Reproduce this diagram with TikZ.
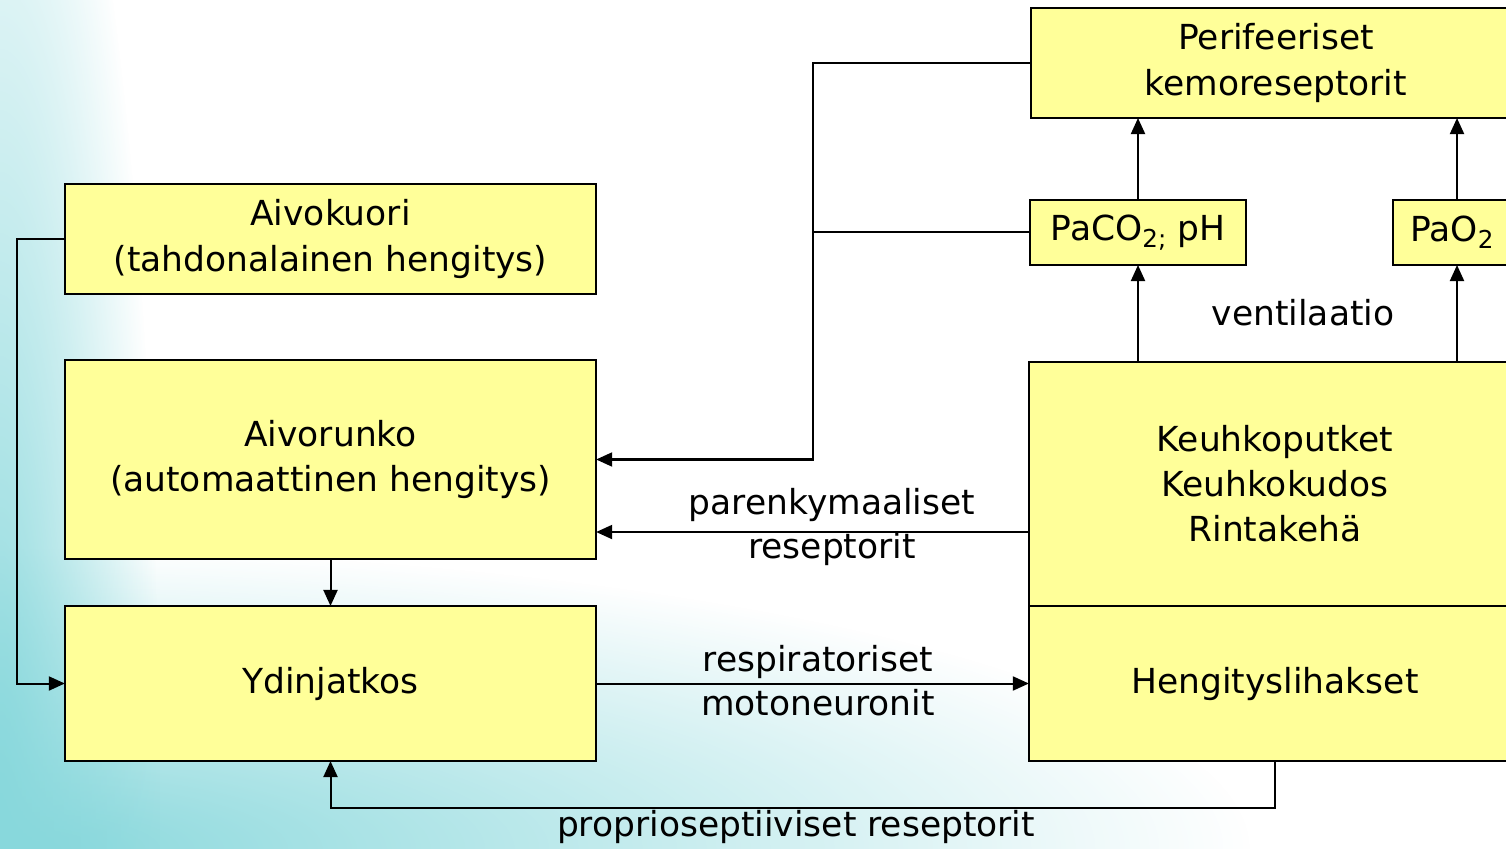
\documentclass[tikz,border=0pt]{standalone}
\usepackage{fontspec}
\setmainfont{DejaVu Sans}
\usetikzlibrary{arrows.meta,calc,fadings}
\definecolor{bgA}{HTML}{88D8DC}
\definecolor{boxy}{HTML}{FFFF99}
\tikzfading[name=glow, inner color=transparent!0, outer color=transparent!100]
\begin{document}
\begin{tikzpicture}[x=0.01cm,y=-0.01cm,
  box/.style={draw=black, fill=boxy, line width=0.02cm, inner sep=0pt, outer sep=0pt, align=center, font=\fontsize{9.8}{12.8}\selectfont},
  lbl/.style={inner sep=0pt, align=center, font=\fontsize{9.8}{12.5}\selectfont},
  conn/.style={line width=0.02cm},
  arr/.style={conn, -{Triangle[length=0.16cm,width=0.14cm]}}]
\useasboundingbox (0,0) rectangle (1506,849);
\clip (0,0) rectangle (1506,849);
\fill[white] (0,0) rectangle (1506,849);
\fill[bgA, path fading=glow] (0,849) ellipse [x radius=1250, y radius=300];
\fill[bgA, path fading=glow] (0,849) ellipse [x radius=160, y radius=1200];

% boxes
\node[box, minimum width=5.31cm, minimum height=1.10cm] (aivok) at (330.5,239) {Aivokuori\\(tahdonalainen hengitys)};
\node[box, minimum width=5.31cm, minimum height=1.99cm] (aivor) at (330.5,459.5) {Aivorunko\\(automaattinen hengitys)};
\node[box, minimum width=5.31cm, minimum height=1.55cm] (ydin) at (330.5,683.5) {Ydinjatkos};
\node[box, minimum width=4.90cm, minimum height=1.10cm] (perif) at (1276,63) {Perifeeriset\\kemoreseptorit};
\node[box, minimum width=2.16cm, minimum height=0.65cm] (paco) at (1138,232.5) {PaCO\raisebox{-0.35ex}{\fontsize{7}{8}\selectfont 2;} pH};
\node[box, minimum width=1.28cm, minimum height=0.65cm] (pao) at (1457,232.5) {PaO\raisebox{-0.35ex}{\fontsize{7}{8}\selectfont 2}\hspace*{0.1cm}};
\node[box, minimum width=4.92cm, minimum height=2.44cm] (keuh) at (1275,484) {Keuhkoputket\\Keuhkokudos\\Rintakehä};
\node[box, minimum width=4.92cm, minimum height=1.55cm] (heng) at (1275,683.5) {Hengityslihakset};

% labels
\node[lbl] (vent) at (1303,313) {ventilaatio};
\node[lbl] (paren) at (832,527) {parenkymaaliset\\reseptorit};
\node[lbl] (resp) at (818,681) {respiratoriset\\motoneuronit};
\node[lbl] (prop) at (796,827) {proprioseptiiviset reseptorit};

% connectors
\coordinate (j) at (813,459.5);
\draw[arr] (aivok.west) -- ++(-48,0) |- (ydin.west);
\draw[arr] (aivor.south) -- (ydin.north);
\draw[arr] (perif.west) -| (j) -- (aivor.east);
\draw[conn] (paco.west) -- (paco.west -| j);
\draw[arr] ([yshift=-0.48cm]keuh.west) -- ([yshift=-0.48cm]keuh.west -| aivor.east);
\draw[arr] (ydin.east) -- (heng.west);
\draw[arr] (heng.south) -- ++(0,47) -| (ydin.south);
\draw[arr] (paco.south |- keuh.north) -- (paco.south);
\draw[arr] (paco.north) -- (paco.north |- perif.south);
\draw[arr] (pao.south |- keuh.north) -- (pao.south);
\draw[arr] (pao.north) -- (pao.north |- perif.south);
\end{tikzpicture}
\end{document}
